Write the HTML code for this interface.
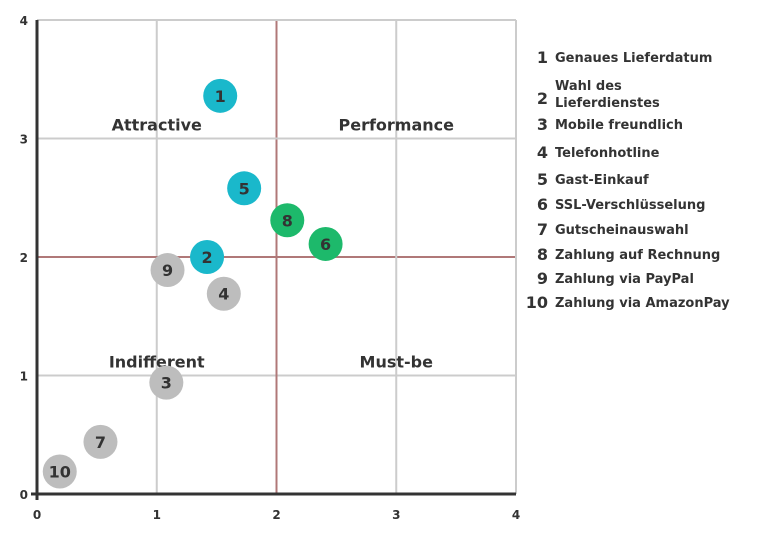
<!DOCTYPE html>
<html><head><meta charset="utf-8"><style>
body{margin:0;background:#fff;font-family:"DejaVu Sans","Liberation Sans",sans-serif;}
svg text{font-family:"DejaVu Sans","Liberation Sans",sans-serif;}
</style></head><body>
<svg id="chart" width="772" height="542" viewBox="0 0 772 542" xmlns="http://www.w3.org/2000/svg">
<g id="grid"></g>
<g id="axes"></g>
<g id="quads"></g>
<g id="points"></g>
<g id="legend"></g>
</svg>
<script>
const ids = [1,2,3,4,5,6,7,8,9,10];
const xVals = [1.53,1.42,1.08,1.56,1.73,2.41,0.53,2.09,1.09,0.19];
const yVals = [3.36,2.00,0.94,1.69,2.58,2.11,0.44,2.31,1.89,0.19];
const groups = ["a","a","i","i","a","p","i","p","i","i"];
const names = ["Genaues Lieferdatum","Wahl des|Lieferdienstes","Mobile freundlich","Telefonhotline","Gast-Einkauf","SSL-Verschlüsselung","Gutscheinauswahl","Zahlung auf Rechnung","Zahlung via PayPal","Zahlung via AmazonPay"];
const ticks = [0,1,2,3,4];
const quadLabels = ["Attractive","Performance","Indifferent","Must-be"];
const quadPos = [[1,3],[3,3],[1,1],[3,1]];
const NS="http://www.w3.org/2000/svg";
const X0=37,X1=516,Y0=494,Y1=20;
const sx=v=>X0+(X1-X0)*v/4, sy=v=>Y0-(Y0-Y1)*v/4;
const colors={a:"#1ab8cb",p:"#1db96b",i:"#bdbdbd"};
function mk(t,a,p){const e=document.createElementNS(NS,t);for(const k in a)e.setAttribute(k,a[k]);p.appendChild(e);return e;}
const grid=document.getElementById('grid');
ticks.forEach(t=>{
 const cx=(t===2)?"#b07878":"#cccccc";
 const l1=mk('line',{x1:sx(t),x2:sx(t),y1:Y1,y2:Y0,stroke:cx,'stroke-width':2},grid);
 
 
 const l2=mk('line',{x1:X0,x2:X1,y1:sy(t),y2:sy(t),stroke:cx,'stroke-width':2},grid);
 
 
});
const axes=document.getElementById('axes');
const ya=mk('line',{x1:X0,x2:X0,y1:Y1,y2:Y0+6,stroke:'#333',"stroke-width":3},axes);


const xa=mk('line',{x1:X0-6,x2:X1,y1:Y0,y2:Y0,stroke:'#333',"stroke-width":3},axes);


ticks.forEach(t=>{
 const a=mk('text',{x:sx(t),y:Y0+25,'text-anchor':'middle','font-size':12,'font-weight':'bold',fill:'#333'},axes);a.textContent=t;
 
 
 const b=mk('text',{x:X0-9,y:sy(t)+5,'text-anchor':'end','font-size':12,'font-weight':'bold',fill:'#333'},axes);b.textContent=t;
 
 
});
const quads=document.getElementById('quads');
quadLabels.forEach((q,i)=>{
 const t=mk('text',{x:sx(quadPos[i][0]),y:sy(quadPos[i][1])-8,'text-anchor':'middle','font-size':16,'font-weight':'bold',fill:'#333'},quads);t.textContent=q;
 
 
});
const pts=document.getElementById('points');
ids.forEach((id,i)=>{
 const g=mk('g',{},pts);
 
 
 mk('circle',{cx:sx(xVals[i]),cy:sy(yVals[i]),r:17,fill:colors[groups[i]]},g);
 const t=mk('text',{x:sx(xVals[i]),y:sy(yVals[i])+6,'text-anchor':'middle','font-size':16,'font-weight':'bold',fill:'#333'},g);t.textContent=id;
});
const leg=document.getElementById('legend');
const legY=[57,90,124,152,179,204,229,254,278,302];
names.forEach((n,i)=>{
 const g=mk('g',{},leg);
 
 
 const parts=n.split('|');
 const ny=legY[i]+(parts.length>1?8:0);
 const a=mk('text',{x:548,y:ny+6,'text-anchor':'end','font-size':16,'font-weight':'bold',fill:'#333'},g);a.textContent=ids[i];
 parts.forEach((p,j)=>{
  const t=mk('text',{x:555,y:legY[i]+5+(parts.length>1?j*17-8+3:0),'font-size':13,'font-weight':'bold',fill:'#333'},g);t.textContent=p;
 });
});
</script>
</body></html>
